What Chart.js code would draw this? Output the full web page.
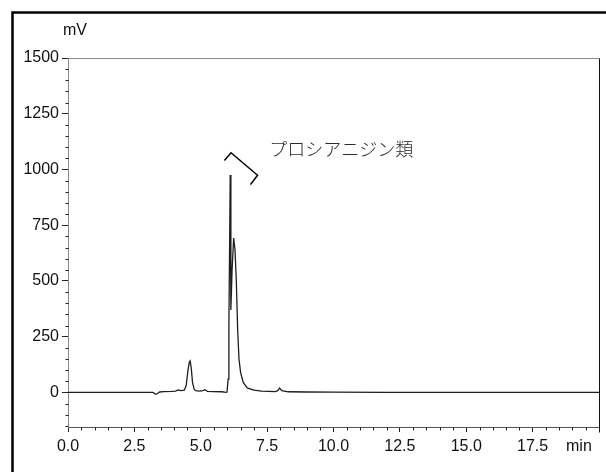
<!DOCTYPE html>
<html>
<head>
<meta charset="utf-8">
<script src="https://cdn.jsdelivr.net/npm/chart.js@4/dist/chart.umd.min.js"></script>
<style>
  html, body { margin: 0; padding: 0; background: #fff; }
  #wrap { width: 606px; height: 472px; position: relative; }
</style>
</head>
<body>
<div id="wrap"><canvas id="c" width="606" height="472"></canvas></div>
<script>
// ---- data ----
const timeMin = [0, 3.2, 3.3, 3.36, 3.45, 3.6, 3.9, 4.05, 4.15, 4.25, 4.38, 4.45, 4.52, 4.57, 4.6, 4.64, 4.69, 4.75, 4.81, 4.95, 5.08, 5.16, 5.25, 5.5, 5.8, 5.95, 5.99, 6.03, 6.06, 6.09, 6.11, 6.135, 6.18, 6.24, 6.29, 6.34, 6.39, 6.44, 6.5, 6.6, 6.75, 7.0, 7.3, 7.8, 7.9, 7.97, 8.05, 8.3, 9.0, 10.0, 12.0, 15.0, 20.0];
const signalMV = [0, 0, -8, -6, 2, 4, 5, 6, 11, 8, 10, 30, 100, 136, 141, 112, 45, 15, 8, 6, 8, 12, 5, 4, 3, 0, 2, 60, 300, 700, 975, 370, 550, 692, 640, 500, 280, 150, 90, 45, 20, 10, 6, 4, 8, 20, 8, 3, 2, 1, 0, 0, 0];

const xTickValues = [0, 2.5, 5, 7.5, 10, 12.5, 15, 17.5, 20];
const xTickLabels = ['0.0', '2.5', '5.0', '7.5', '10.0', '12.5', '15.0', '17.5', ''];
const yTickValues = [0, 250, 500, 750, 1000, 1250, 1500];
const yTickLabels = ['0', '250', '500', '750', '1000', '1250', '1500'];

const yUnit = 'mV';
const xUnit = 'min';
const peakLabel = 'プロシアニジン類';
const peakLabelAt = [7.58, 1091];
const bracketX = [5.89, 6.14, 7.14, 6.87];
const bracketY = [1040, 1075, 974, 932];

// ---- chart ----
const FONT = "'Liberation Sans', Arial, sans-serif";

const trace = timeMin.map((t, i) => ({ x: t, y: signalMV[i] }));
const bracket = bracketX.map((t, i) => ({ x: t, y: bracketY[i] }));

const decorPlugin = {
  id: 'decor',
  beforeDraw(chart) {
    const ctx = chart.ctx;
    ctx.save();
    ctx.fillStyle = '#fff';
    ctx.fillRect(0, 0, chart.width, chart.height);
    ctx.restore();
  },
  afterDraw(chart) {
    const ctx = chart.ctx;
    const a = chart.chartArea;
    const xs = chart.scales.x, ys = chart.scales.y;
    ctx.save();
    // outer border (top and left only)
    ctx.strokeStyle = '#000';
    ctx.lineWidth = 2.5;
    ctx.beginPath();
    ctx.moveTo(12.5, 472);
    ctx.lineTo(12.5, 12.5);
    ctx.lineTo(606, 12.5);
    ctx.stroke();

    // plot frame: top gray, right black
    const L = Math.round(a.left) + 0.5, R = Math.round(a.right) + 0.5;
    const T = Math.round(a.top) + 0.5, B = Math.round(a.bottom) + 0.5;
    ctx.lineWidth = 1;
    ctx.strokeStyle = '#8a8a8a';
    ctx.beginPath(); ctx.moveTo(L, T); ctx.lineTo(R, T); ctx.stroke();
    ctx.strokeStyle = '#111';
    ctx.beginPath(); ctx.moveTo(R, T); ctx.lineTo(R, B + 5); ctx.stroke();

    // minor ticks
    ctx.strokeStyle = '#222';
    ctx.beginPath();
    for (let k = 0; k <= 40; k++) {
      const v = k * 0.5;
      if (k % 5 === 0) continue;
      const px = Math.round(xs.getPixelForValue(v)) + 0.5;
      ctx.moveTo(px, B); ctx.lineTo(px, B + 3);
    }
    for (let k = -3; k <= 30; k++) {
      const v = k * 50;
      if (k % 5 === 0) continue;
      const py = Math.round(ys.getPixelForValue(v)) + 0.5;
      ctx.moveTo(L - 3, py); ctx.lineTo(L, py);
    }
    ctx.stroke();

    // unit labels
    ctx.fillStyle = '#111';
    ctx.font = '16px ' + FONT;
    ctx.textAlign = 'center';
    ctx.textBaseline = 'middle';
    ctx.fillText(yUnit, a.left + 7, a.top - 27);
    ctx.textAlign = 'left';
    ctx.fillText(xUnit, 566, 447);

    // peak annotation text
    ctx.fillStyle = '#2a2a2a';
    ctx.font = "300 18px 'Noto Sans CJK JP', sans-serif";
    ctx.textAlign = 'left';
    ctx.textBaseline = 'middle';
    ctx.fillText(peakLabel, xs.getPixelForValue(peakLabelAt[0]), ys.getPixelForValue(peakLabelAt[1]));
    ctx.restore();
  }
};

new Chart(document.getElementById('c'), {
  type: 'line',
  data: {
    datasets: [
      { data: trace, borderColor: '#1e1e1e', borderWidth: 1.3, pointRadius: 0, tension: 0, fill: false },
      { data: bracket, borderColor: '#000', borderWidth: 1.5, pointRadius: 0, tension: 0, fill: false }
    ]
  },
  options: {
    responsive: false,
    animation: false,
    devicePixelRatio: 1,
    layout: { padding: { left: 0, top: 58, right: 7, bottom: 0 } },
    plugins: { legend: { display: false }, tooltip: { enabled: false } },
    scales: {
      x: {
        type: 'linear',
        min: 0, max: 20,
        afterBuildTicks(s) { s.ticks = xTickValues.map(v => ({ value: v })); },
        afterFit(s) { s.height = 45; },
        ticks: {
          color: '#111',
          font: { family: FONT, size: 16 },
          padding: 5,
          maxRotation: 0,
          autoSkip: false,
          callback(v, i) { return xTickLabels[i]; }
        },
        grid: { drawOnChartArea: false, tickLength: 5, tickColor: '#222', tickWidth: 1 },
        border: { display: true, color: '#555', width: 1 }
      },
      y: {
        type: 'linear',
        min: -155, max: 1500,
        afterBuildTicks(s) { s.ticks = yTickValues.map(v => ({ value: v })); },
        afterFit(s) { s.width = 68; },
        ticks: {
          color: '#111',
          font: { family: FONT, size: 16 },
          padding: 3,
          autoSkip: false,
          callback(v, i) { return yTickLabels[i]; }
        },
        grid: { drawOnChartArea: false, tickLength: 6, tickColor: '#222', tickWidth: 1 },
        border: { display: true, color: '#888', width: 1 }
      }
    }
  },
  plugins: [decorPlugin]
});
</script>
</body>
</html>
